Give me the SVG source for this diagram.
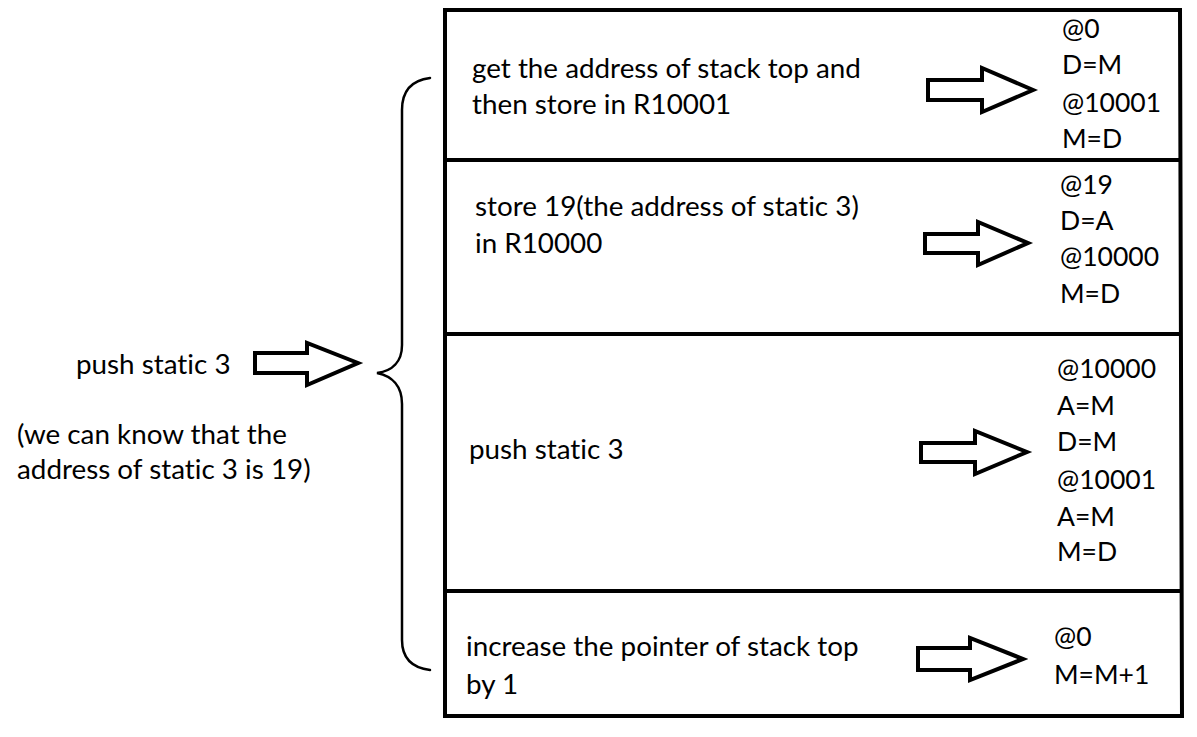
<svg xmlns="http://www.w3.org/2000/svg" width="1197" height="737" viewBox="0 0 1197 737">
<style>
text{font-family:Lato,"Open Sans",sans-serif;font-size:27.8px;fill:#000;font-variant-ligatures:none;font-feature-settings:"liga" 0}
text.c{font-size:26.5px}
.box{fill:none;stroke:#000;stroke-width:4}
.arr{fill:#fff;stroke:#000;stroke-width:4;stroke-linejoin:miter}
.brace{fill:none;stroke:#000;stroke-width:2.5;stroke-linecap:round}
</style>
<rect width="1197" height="737" fill="#fff"/>
<g id="frame">
<path class="box" d="M445,10 L1180,10 L1182,716 L445,716 Z"/>
</g>
<g id="step1">
<path class="box" d="M443,160 L1180,160"/>
<text x="472" y="78">get the address of stack top and</text>
<text x="472" y="114">then store in R10001</text>
<text class="c" x="1062" y="38">@0</text>
<text class="c" x="1062" y="74">D=M</text>
<text class="c" x="1062" y="112">@10001</text>
<text class="c" x="1062" y="148">M=D</text>
</g>
<g id="step2">
<path class="box" d="M443,334 L1181,334"/>
<text x="475" y="216">store 19(the address of static 3)</text>
<text x="475" y="253">in R10000</text>
<text class="c" x="1060" y="194">@19</text>
<text class="c" x="1060" y="230">D=A</text>
<text class="c" x="1060" y="266">@10000</text>
<text class="c" x="1060" y="303">M=D</text>
</g>
<g id="step3">
<path class="box" d="M445,591 L1183,591"/>
<text x="469" y="459">push static 3</text>
<text class="c" x="1057" y="378">@10000</text>
<text class="c" x="1057" y="415">A=M</text>
<text class="c" x="1057" y="451">D=M</text>
<text class="c" x="1057" y="489">@10001</text>
<text class="c" x="1057" y="526">A=M</text>
<text class="c" x="1057" y="561">M=D</text>
</g>
<g id="step4">
<text x="466" y="656">increase the pointer of stack top</text>
<text x="466" y="694">by 1</text>
<text class="c" x="1054" y="646">@0</text>
<text class="c" x="1054" y="684">M=M+1</text>
</g>
<g id="source">
<text x="76" y="374">push static 3</text>
<text x="17" y="444">(we can know that the</text>
<text x="17" y="479">address of static 3 is 19)</text>
</g>
<g id="connectors">
<path class="arr" d="M255,353 L307,353 L307,343 L358,363 L307,385 L307,373 L255,373 Z"/>
<path class="brace" d="M430,78 C414,80 402,89 402,110 L402,345 C402,362 392,371 377,373 C392,376 402,386 402,404 L402,640 C402,660 414,668 430,670"/>
<path class="arr" d="M928,80 L982,80 L982,68 L1033,90 L982,112 L982,100 L928,100 Z"/>
<path class="arr" d="M925,234 L978,234 L978,222 L1028,243 L978,265 L978,253 L925,253 Z"/>
<path class="arr" d="M921,443 L975,443 L975,431 L1027,452 L975,474 L975,462 L921,462 Z"/>
<path class="arr" d="M918,648 L970,648 L970,638 L1023,659 L970,680 L970,670 L918,670 Z"/>
</g>
</svg>
